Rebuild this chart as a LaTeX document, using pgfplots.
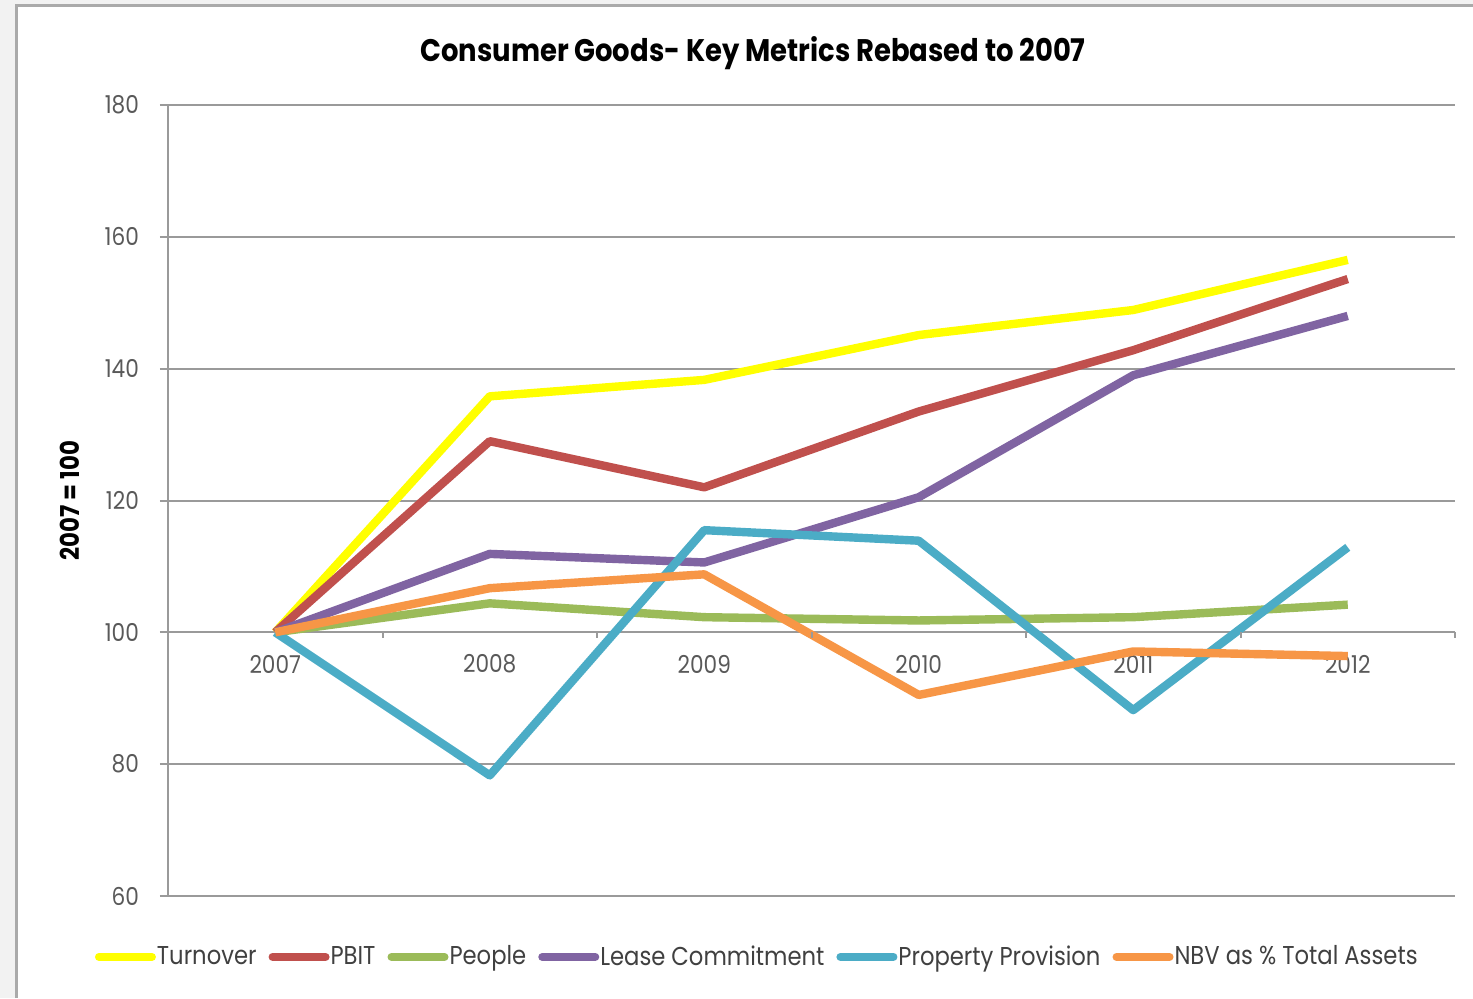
\documentclass[border=0pt]{standalone}
\usepackage{pgfplots}
\pgfplotsset{compat=1.18}
\usepackage{fontspec}
\setmainfont{Poppins}[FakeStretch=0.88]
\definecolor{cTurn}{HTML}{FFFF00}
\definecolor{cPBIT}{HTML}{C0504D}
\definecolor{cPeople}{HTML}{9BBB59}
\definecolor{cLease}{HTML}{8064A2}
\definecolor{cProp}{HTML}{4BACC6}
\definecolor{cNBV}{HTML}{F79646}
\definecolor{gridgray}{HTML}{9A9A9A}
\definecolor{ticktext}{HTML}{595959}
\definecolor{legtext}{HTML}{404040}
\definecolor{outerbg}{HTML}{F2F2F2}
\definecolor{framec}{HTML}{AAAAAA}
\begin{document}
\begin{tikzpicture}[x=0.5pt,y=0.5pt]
\path[use as bounding box, fill=outerbg] (0,0) rectangle (1473,998);
\fill[white] (16,0) rectangle (1473,992);
\draw[color=framec, line width=1.5pt] (16,0) -- (16,992) -- (1473,992);
\node[font=\bfseries\fontsize{15.6}{18}\selectfont] at (753,945) {Consumer Goods- Key Metrics Rebased to 2007};
\begin{axis}[
  at={(84pt,51pt)}, anchor=south west,
  scale only axis, width=643.5pt, height=395.5pt,
  xmin=-0.5, xmax=5.5, ymin=60, ymax=180,
  xtick={0,1,2,3,4,5}, xticklabels={2007,2008,2009,2010,2011,2012},
  ytick={60,80,100,120,140,160,180},
  axis lines*=left,
  x axis line style={draw=none},
  y axis line style={draw=gridgray, line width=1pt},
  ymajorgrids, major grid style={draw=gridgray, line width=1pt},
  xtick style={draw=none},
  ytick style={draw=gridgray, line width=1pt},
  tick align=outside, major tick length=4pt,
  /pgf/number format/assume math mode=true,
  yticklabel style={font=\fontsize{12.3}{14}\selectfont, text=ticktext, xshift=-7pt},
  xticklabel style={font=\fontsize{12.3}{14}\selectfont, text=ticktext, anchor=center, yshift=120pt},
  ylabel={2007 = 100},
  ylabel style={font=\bfseries\fontsize{13}{15}\selectfont, at={(axis description cs:-0.0761,0.5)}, anchor=center},
  legend style={at={(axis description cs:0.4575,-0.077)}, anchor=center, draw=none, fill=none,
    legend columns=6, font=\fontsize{12.9}{15}\selectfont, text=legtext,
    /tikz/every even column/.append style={column sep=5.5pt},
    nodes={inner sep=0.5pt}},
  legend image code/.code={\draw[#1, line width=4pt, line cap=round] (1.5pt,0) -- (28pt,0);},
  clip=false,
]
\addplot[cTurn, line width=4.2pt, line join=round] coordinates {(0,100) (1,135.8) (2,138.3) (3,145.1) (4,148.9) (5,156.5)};
\addlegendentry{Turnover}
\addplot[cPBIT, line width=4.2pt, line join=round] coordinates {(0,100) (1,129.0) (2,122.0) (3,133.5) (4,142.8) (5,153.6)};
\addlegendentry{PBIT}
\addplot[cPeople, line width=4.2pt, line join=round] coordinates {(0,100) (1,104.4) (2,102.3) (3,101.8) (4,102.3) (5,104.2)};
\addlegendentry{People}
\addplot[cLease, line width=4.2pt, line join=round] coordinates {(0,100) (1,111.9) (2,110.6) (3,120.5) (4,139.0) (5,148.0)};
\addlegendentry{Lease Commitment}
\addplot[cProp, line width=4.2pt, line join=round] coordinates {(0,100) (1,78.3) (2,115.5) (3,113.9) (4,88.2) (5,112.9)};
\addlegendentry{Property Provision}
\addplot[cNBV, line width=4.2pt, line join=round] coordinates {(0,100) (1,106.7) (2,108.8) (3,90.5) (4,97.1) (5,96.4)};
\addlegendentry{NBV as \% Total Assets}
\pgfplotsinvokeforeach{0.5,1.5,2.5,3.5,4.5,5.5}{
  \draw[gridgray, line width=1pt] (axis cs:#1,100) -- ([yshift=-3pt]axis cs:#1,100);
}
\end{axis}
\end{tikzpicture}
\end{document}
